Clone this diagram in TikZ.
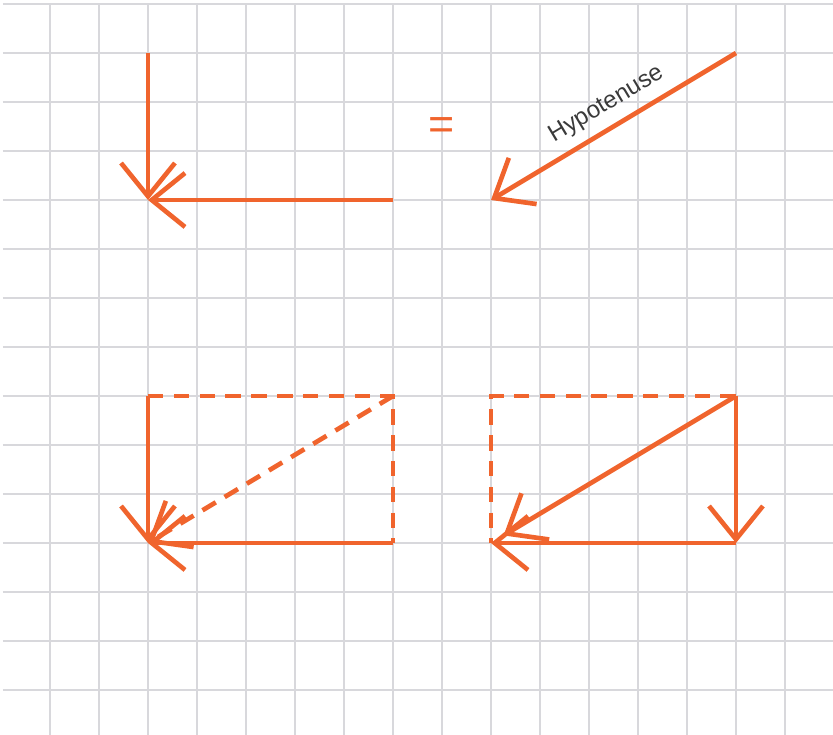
\documentclass[tikz,border=0pt]{standalone}
\usepackage{fontspec}
\setmainfont{Liberation Sans}
\usepackage{tikz}
\usetikzlibrary{arrows.meta}
\usepackage{xcolor}
\definecolor{vecorange}{RGB}{240,100,45}
\definecolor{gridgray}{RGB}{216,216,220}
\definecolor{labelgray}{RGB}{58,58,58}

\begin{document}
\begin{tikzpicture}[>={Straight Barb[length=0.68cm,width=1.1cm]},
		vec/.style={vecorange,line width=2.7pt,->},
		ghost/.style={vecorange,line width=2.7pt,dash pattern=on 9pt off 6pt},
		gridline/.style={gridgray,line width=1.2pt}]
		
		% Canvas
		\useasboundingbox (-1.0204,0.0816) rectangle (15.98,-14.918);
		\foreach \j in {0,...,14}
			\draw[gridline] (-0.96,-\j) -- (15.98,-\j);
		\foreach \i in {0,...,15}
			\draw[gridline] (\i,0) -- (\i,-14.918);
		
		% Corner points
		\coordinate (p1) at (2,-1);
		\coordinate (p2) at (2,-4);
		\coordinate (p3) at (7,-4);
		\coordinate (h1) at (14,-1);
		\coordinate (h2) at (9,-4);
		\coordinate (aTL) at (2,-8);
		\coordinate (aTR) at (7,-8);
		\coordinate (aBL) at (2,-11);
		\coordinate (aBR) at (7,-11);
		\coordinate (bTL) at (9,-8);
		\coordinate (bTR) at (14,-8);
		\coordinate (bBL) at (9,-11);
		\coordinate (bBR) at (14,-11);
		
		% Two legs
		\draw[vec] (p1) -- (p2);
		\draw[vec] (p3) -- (p2);
		
		\node[text=vecorange,font=\fontsize{26}{30}\selectfont] (eq) at (8,-2.55) {=};
		
		% Hypotenuse
		\draw[vec] (h1) -- node[pos=0.48,sloped,above=2pt,text=labelgray,font=\fontsize{14}{16}\selectfont] (hyp) {Hypotenuse} (h2);
		
		% Left triangle
		\draw[ghost] (aTL) -- (aTR) -- (aBR);
		\draw[ghost,->] (aTR) -- (aBL);
		\draw[vec] (aTL) -- (aBL);
		\draw[vec] (aBR) -- (aBL);
		
		% Right triangle
		\draw[ghost] (bTR) -- (bTL) -- (bBL);
		\draw[vec] (bTR) -- (bBR);
		\draw[vec] (bBR) -- (bBL);
		\draw[vec,shorten >=0.3cm] (bTR) -- (bBL);
		
	\end{tikzpicture}
\end{document}
